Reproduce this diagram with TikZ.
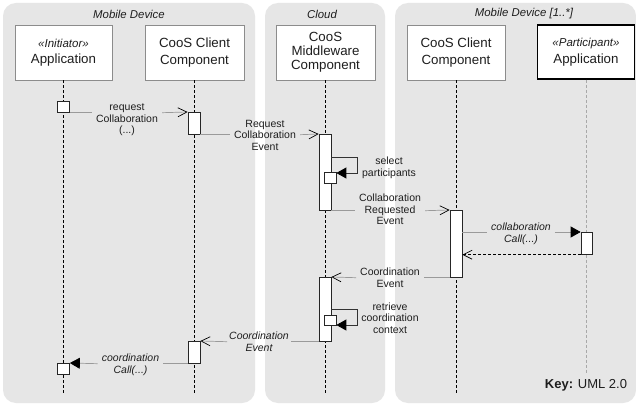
\documentclass[tikz,border=0pt]{standalone}
\usepackage{fontspec}
\setmainfont{Liberation Sans}
\usetikzlibrary{arrows.meta}
\definecolor{panelgrey}{HTML}{E6E6E6}
\definecolor{boxgrey}{HTML}{8C8C8C}
\definecolor{msggrey}{HTML}{9A9A9A}
\definecolor{txt}{HTML}{1E1E1E}
\definecolor{lightline}{HTML}{A8A8A8}
\begin{document}
\begin{tikzpicture}[x=1pt,y=-1pt,
 panel/.style={fill=panelgrey, rounded corners=13pt},
 title/.style={font=\fontsize{11.4}{13}\selectfont\itshape, text=txt},
 head/.style={draw=boxgrey, fill=white, line width=0.6pt, align=center, text=txt, inner sep=0pt, minimum height=55pt, font=\fontsize{13.3}{16.5}\selectfont},
 lifeline/.style={draw=black, line width=0.8pt, dash pattern=on 3pt off 2pt},
 act/.style={draw=black!85, fill=white, line width=0.7pt, inner sep=0pt, minimum width=12pt},
 lbl/.style={font=\fontsize{10.5}{11.5}\selectfont, align=center, text=txt, inner xsep=4pt, inner ysep=1pt},
 ilbl/.style={lbl, font=\fontsize{10.5}{11.5}\selectfont\itshape},
 msg/.style={draw=msggrey, line width=0.7pt},
 openarr/.style={-{Straight Barb[length=9pt,width=9pt,line width=0.7pt,color=black]}},
 fillarr/.style={-{Triangle[length=10pt,width=11pt,color=black]}},
 loopline/.style={draw=black!80, line width=0.8pt},
]
\useasboundingbox (0,0) rectangle (636,406);
\fill[white] (0,0) rectangle (636,406);
% panels
\fill[panel] (3,3) rectangle (255,403);
\fill[panel] (265,3) rectangle (385,403);
\fill[panel] (395,3) rectangle (636,403);
% titles
\node[title] (t1) at (129,14) {Mobile Device};
\node[title] (t2) at (322,14) {Cloud};
\node[title] (t3) at (524,14) {Mobile Device [1..*]};
% heads
\node[head, minimum width=97pt] (app) at (63.5,52.5) {{\fontsize{11.5}{13}\selectfont\itshape «Initiator»}\\Application};
\node[head, minimum width=99pt] (cl1) at (194.5,52.5) {CooS Client\\Component};
\node[head, minimum width=99pt, font=\fontsize{13.3}{14}\selectfont] (mw) at (325.5,52.5) {CooS\\Middleware\\Component};
\node[head, minimum width=98pt] (cl2) at (456,52.5) {CooS Client\\Component};
\node[head, minimum width=97pt, minimum height=54pt, draw=black, line width=1.1pt] (par) at (586,52) {{\fontsize{11.5}{13}\selectfont\itshape «Participant»}\\Application};
% lifeline ends
\coordinate (e1) at (63.5,395);
\coordinate (e2) at (194,395);
\coordinate (e3) at (325,395);
\coordinate (e4) at (456,395);
\coordinate (e5) at (586.5,373);
\draw[lifeline] (app.south) -- (e1);
\draw[lifeline] (cl1.south -| e2) -- (e2);
\draw[lifeline] (mw.south -| e3) -- (e3);
\draw[lifeline] (cl2.south) -- (e4);
\draw[lifeline, draw=lightline, line width=0.6pt] (par.south -| e5) -- (e5);
% activations
\node[act, minimum height=11pt, anchor=north] (a1) at (63.5,101) {};
\node[act, minimum height=22pt, anchor=north] (c1) at (194,112) {};
\node[act, minimum height=76pt, anchor=north] (m1) at (325,134) {};
\node[act, minimum height=11pt, anchor=north] (m1s) at (330,172) {};
\node[act, minimum height=67pt, anchor=north] (c2) at (456,210) {};
\node[act, minimum height=22pt, minimum width=11pt, anchor=north] (p1) at (586.5,232) {};
\node[act, minimum height=64pt, anchor=north] (m2) at (325,277) {};
\node[act, minimum height=10pt, anchor=north] (m2s) at (330,315) {};
\node[act, minimum height=22pt, anchor=north] (c3) at (194,341) {};
\node[act, minimum height=11pt, anchor=north] (a2) at (63.5,363) {};
% 1 request Collaboration
\node[lbl] (l1) at (127,120) {request\\Collaboration\\(...)};
\draw[msg] (a1.south east) -- (a1.south east -| l1.west);
\draw[msg,openarr] (a1.south east -| l1.east) -- (c1.north west);
% 2 Request Collaboration Event
\node[lbl] (l2) at (265,135) {Request\\Collaboration\\Event};
\draw[msg] (c1.south east) -- (c1.south east -| l2.west);
\draw[msg,openarr] (c1.south east -| l2.east) -- (m1.north west);
% 3 Collaboration Requested Event
\node[lbl] (l3) at (390,209.5) {Collaboration\\Requested\\Event};
\draw[msg] (m1.south east) -- (m1.south east -| l3.west);
\draw[msg,openarr] (m1.south east -| l3.east) -- (c2.north west);
% 4 select participants
\coordinate (s1a) at (357,157);
\coordinate (s1b) at (357,173);
\draw[loopline,fillarr] (m1.east |- s1a) -- (s1a) -- (s1b) -- (m1s.east |- s1b);
\node[lbl] (l4) at (389,168) {select\\participants};
% 5 collaboration Call
\node[ilbl] (l5) at (521,234) {collaboration\\Call(...)};
\coordinate (m5) at (c2.east |- p1.north west);
\draw[msg] (m5) -- (m5 -| l5.west);
\draw[msg,fillarr] (m5 -| l5.east) -- (p1.north west);
% 6 return
\draw[black, line width=0.8pt, dash pattern=on 3pt off 2pt, openarr] (p1.south west) -- (c2.east |- p1.south west);
% 7 Coordination Event
\node[lbl] (l7) at (390,277.5) {Coordination\\Event};
\draw[msg] (c2.south west) -- (c2.south west -| l7.east);
\draw[msg,openarr] (c2.south west -| l7.west) -- (m2.north east);
% 8 retrieve coordination context
\coordinate (s2a) at (357,309);
\coordinate (s2b) at (357,325);
\draw[loopline,fillarr] (m2.east |- s2a) -- (s2a) -- (s2b) -- (m2s.east |- s2b);
\node[lbl] (l8) at (390,318) {retrieve\\coordination\\context};
% 9 Coordination Event (italic)
\node[ilbl, inner xsep=2pt] (l9) at (259,341.5) {Coordination\\Event};
\draw[msg] (m2.south west) -- (m2.south west -| l9.east);
\draw[msg,openarr] (m2.south west -| l9.west) -- (c3.north east);
% 10 coordination Call
\node[ilbl] (l10) at (130.5,365) {coordination\\Call(...)};
\draw[msg] (c3.south west) -- (c3.south west -| l10.east);
\draw[msg,fillarr] (c3.south west -| l10.west) -- (a2.north east);
% key
\node[font=\fontsize{13}{15}\selectfont, text=txt] (key) at (586,385) {\textbf{Key:} UML 2.0};
\end{tikzpicture}
\end{document}
